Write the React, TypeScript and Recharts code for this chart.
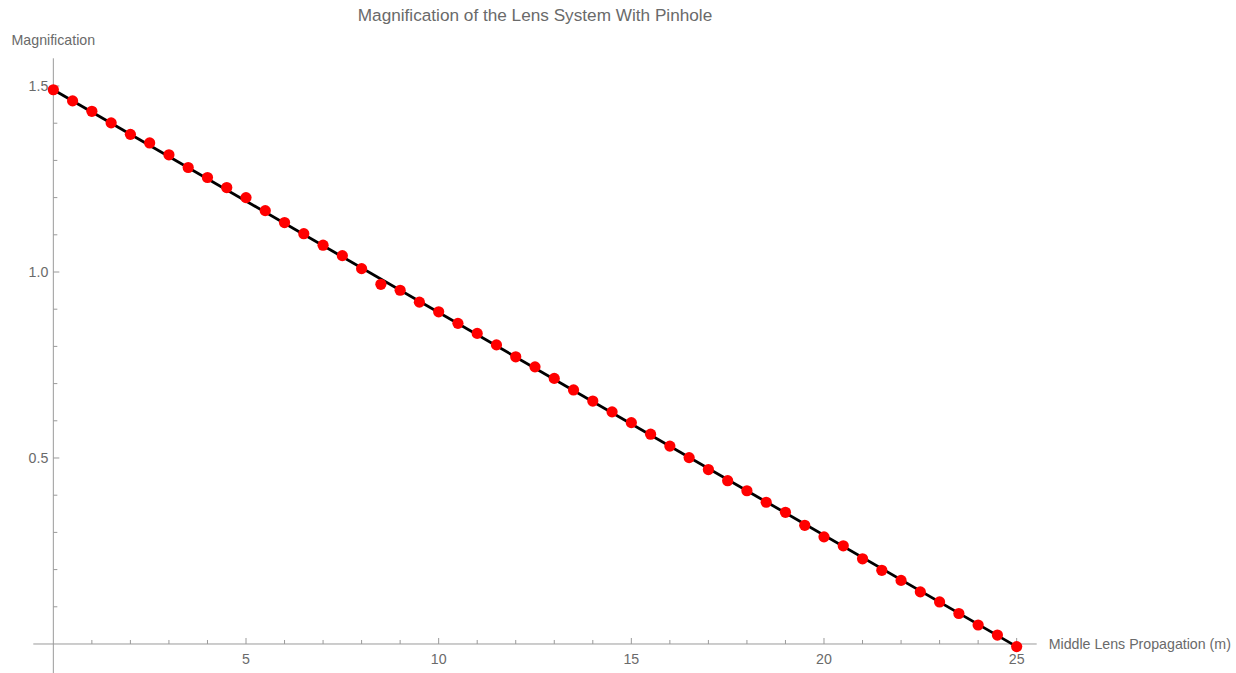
import React from 'react';
import {
  ComposedChart,
  XAxis,
  YAxis,
  Line,
  Scatter,
  ReferenceLine,
  ReferenceDot,
} from 'recharts';

// Measured magnification against middle-lens propagation distance (m)
const propagation = [
  0, 0.5, 1, 1.5, 2, 2.5, 3, 3.5, 4, 4.5, 5, 5.5, 6, 6.5, 7, 7.5, 8, 8.5, 9, 9.5,
  10, 10.5, 11, 11.5, 12, 12.5, 13, 13.5, 14, 14.5, 15, 15.5, 16, 16.5, 17, 17.5,
  18, 18.5, 19, 19.5, 20, 20.5, 21, 21.5, 22, 22.5, 23, 23.5, 24, 24.5, 25,
];
const magnification = [
  1.49, 1.46, 1.432, 1.401, 1.37, 1.347, 1.315, 1.281, 1.254, 1.227, 1.2, 1.165,
  1.133, 1.103, 1.072, 1.044, 1.009, 0.967, 0.951, 0.919, 0.893, 0.862, 0.835,
  0.804, 0.772, 0.745, 0.714, 0.683, 0.653, 0.624, 0.595, 0.564, 0.532, 0.501,
  0.469, 0.439, 0.412, 0.381, 0.354, 0.319, 0.288, 0.264, 0.229, 0.198, 0.171,
  0.14, 0.113, 0.082, 0.051, 0.024, -0.007,
];

// Linear fit through the measurements (end points)
const fitX = [0, 25];
const fitY = [1.49, -0.007];

// Axis ticks
const xMajorTicks = [5, 10, 15, 20, 25];
const xMinorTicks = [1, 2, 3, 4, 6, 7, 8, 9, 11, 12, 13, 14, 16, 17, 18, 19, 21, 22, 23, 24];
const yMajorTicks = [0.5, 1.0, 1.5];
const yMinorTicks = [0.1, 0.2, 0.3, 0.4, 0.6, 0.7, 0.8, 0.9, 1.1, 1.2, 1.3, 1.4];

const xDomain: [number, number] = [-0.52, 25.52];
const yDomain: [number, number] = [-0.078, 1.5745];

const title = 'Magnification of the Lens System With Pinhole';
const xLabel = 'Middle Lens Propagation (m)';
const yLabel = 'Magnification';

const points = propagation.map((x, i) => ({ x, y: magnification[i] }));
const fitData = fitX.map((x, i) => ({ x, y: fitY[i] }));

const FONT = '"Liberation Sans", Arial, Helvetica, sans-serif';
const AXIS_COLOR = '#9a9a9a';
const TEXT_COLOR = '#6a6a6a';

const RedDot = (p: any) => <circle cx={p.cx} cy={p.cy} r={5.6} fill="#ff0000" />;

const xTick = (major: boolean, label?: string) => (p: any) => (
  <g>
    <line x1={p.cx} y1={p.cy} x2={p.cx} y2={p.cy - (major ? 6 : 4)} stroke={AXIS_COLOR} strokeWidth={1} />
    {label !== undefined && (
      <text x={p.cx} y={p.cy + 20} textAnchor="middle" fontSize={14.2} fontFamily={FONT} fill={TEXT_COLOR}>
        {label}
      </text>
    )}
  </g>
);

const yTick = (major: boolean, label?: string) => (p: any) => (
  <g>
    <line x1={p.cx} y1={p.cy} x2={p.cx + (major ? 6 : 4)} y2={p.cy} stroke={AXIS_COLOR} strokeWidth={1} />
    {label !== undefined && (
      <text x={p.cx - 5} y={p.cy} dy="0.35em" textAnchor="end" fontSize={14.2} fontFamily={FONT} fill={TEXT_COLOR}>
        {label}
      </text>
    )}
  </g>
);

const xAxisTitle = (p: any) => (
  <text x={p.cx + 12} y={p.cy} dy="0.35em" textAnchor="start" fontSize={14.2} fontFamily={FONT} fill={TEXT_COLOR}>
    {xLabel}
  </text>
);

const yAxisTitle = (p: any) => (
  <text x={p.cx} y={p.cy - 13} textAnchor="middle" fontSize={14.2} fontFamily={FONT} fill={TEXT_COLOR}>
    {yLabel}
  </text>
);

export default function App() {
  return (
    <div style={{ position: 'absolute', left: 0, top: 0, width: 1236, height: 673, background: '#fff' }}>
      <ComposedChart
        width={1236}
        height={673}
        margin={{ top: 58.3, right: 199.3, bottom: 0, left: 33.3 }}
      >
        <XAxis dataKey="x" type="number" domain={xDomain} allowDataOverflow hide />
        <YAxis type="number" domain={yDomain} allowDataOverflow hide />

        <ReferenceLine y={0} stroke={AXIS_COLOR} strokeWidth={1} />
        <ReferenceLine x={0} stroke={AXIS_COLOR} strokeWidth={1} />

        {xMinorTicks.map((t) => (
          <ReferenceDot key={`xm${t}`} x={t} y={0} shape={xTick(false)} />
        ))}
        {xMajorTicks.map((t) => (
          <ReferenceDot key={`xM${t}`} x={t} y={0} shape={xTick(true, String(t))} />
        ))}
        {yMinorTicks.map((t) => (
          <ReferenceDot key={`ym${t}`} x={0} y={t} shape={yTick(false)} />
        ))}
        {yMajorTicks.map((t) => (
          <ReferenceDot key={`yM${t}`} x={0} y={t} shape={yTick(true, t.toFixed(1))} />
        ))}
        <ReferenceDot x={xDomain[1]} y={0} shape={xAxisTitle} />
        <ReferenceDot x={0} y={yDomain[1]} shape={yAxisTitle} />

        <Line
          data={fitData}
          dataKey="y"
          type="linear"
          stroke="#000000"
          strokeWidth={2.8}
          dot={false}
          activeDot={false}
          isAnimationActive={false}
        />
        <Scatter data={points} dataKey="y" shape={RedDot} isAnimationActive={false} />

        <text x={535} y={21} textAnchor="middle" fontSize={17.2} fontFamily={FONT} fill={TEXT_COLOR}>
          {title}
        </text>
      </ComposedChart>
    </div>
  );
}
